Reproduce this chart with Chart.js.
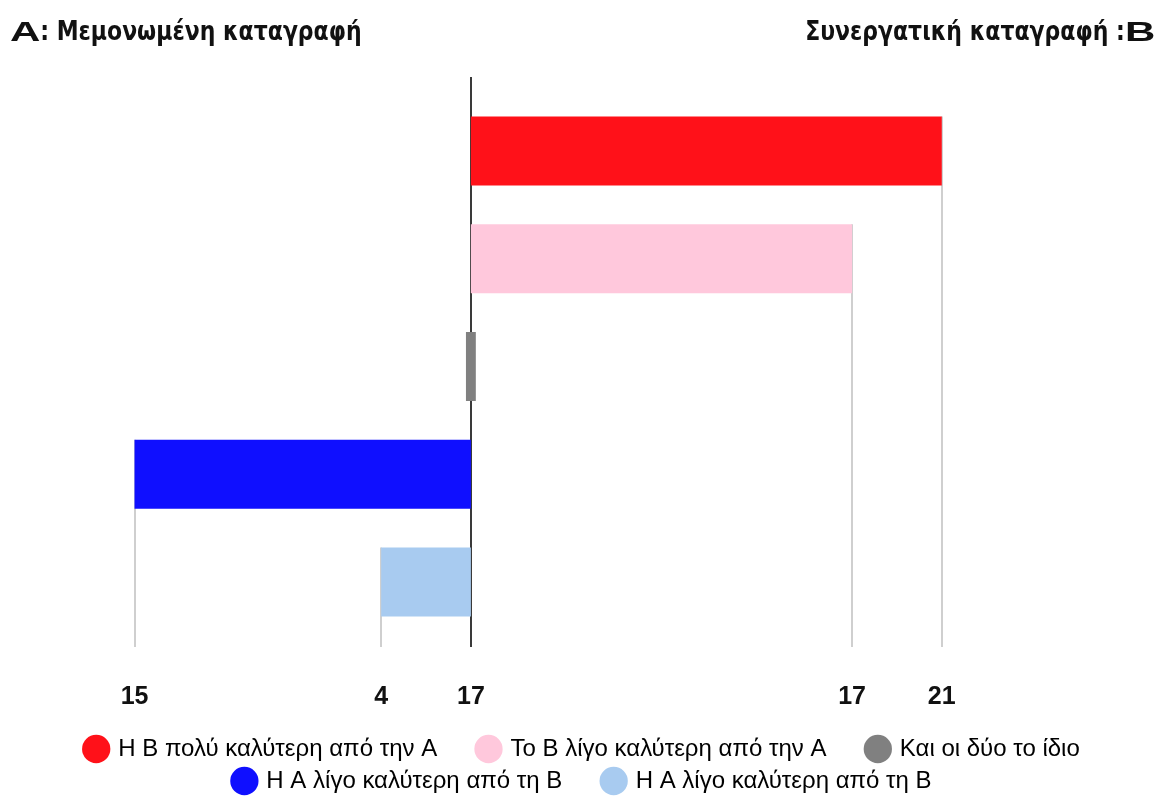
<!DOCTYPE html>
<html>
<head>
<meta charset="utf-8">
<script src="https://cdn.jsdelivr.net/npm/chart.js@4.4.0/dist/chart.umd.min.js"></script>
<style>
  html, body { margin: 0; padding: 0; background: #fff; }
  #wrap { position: relative; width: 1166px; height: 803px; }
  .head { position: absolute; top: 16px; font-family: "DejaVu Sans", sans-serif; font-weight: bold; font-size: 22px; color: #111; white-space: nowrap; }
  .head b { display: inline-block; font-family: "Liberation Sans", Arial, sans-serif; font-size: 28px; transform: scaleX(1.5); }
  .head span { display: inline-block; transform: scaleY(1.2); transform-origin: bottom; }
  #headA { left: 10px; }
  #headA b { transform-origin: left; margin-right: 10px; }
  #headB { right: 11px; }
  #headB b { transform-origin: right; margin-left: 10px; }
  canvas { display: block; }
</style>
</head>
<body>
<div id="wrap">
  <div class="head" id="headA"><b>A</b><span>: Μεμονωμένη καταγραφή</span></div>
  <div class="head" id="headB"><span>Συνεργατική καταγραφή :</span><b>B</b></div>
  <canvas id="chart" width="1166" height="803"></canvas>
</div>
<script>
console.log("JS Loaded");

// DATA
const categories = ['Η Β πολύ καλύτερη από την Α', 'Το Β λίγο καλύτερη από την Α', 'Και οι δύο το ίδιο', 'Η Α λίγο καλύτερη από τη Β', 'Η Α λίγο καλύτερη από τη Β'];
const counts = [21, 17, 17, 15, 4];
// which side of the centre line: +1 = B, -1 = A, 0 = centre marker
const sides = [1, 1, 0, -1, -1];
const colors = ['#ff1119', '#ffc8dc', '#808080', '#0f0fff', '#a8cbf0'];
const tickValues = [-15, -4, 0, 17, 21];
const tickLabels = ['15', '4', '17', '17', '21'];

const markerHalf = 0.22; // half width of the "same" marker
// legend items followed by a wider gap (not last in their row)
const gapAfter = [true, true, false, true, false];
const legendGap = '     ';

const barData = counts.map((c, i) => sides[i] === 0 ? [-markerHalf, markerHalf] : (sides[i] > 0 ? [0, c] : [-c, 0]));

// guide lines: centre line + light lines dropping from each bar end
const guideLines = {
  id: 'guideLines',
  beforeDatasetsDraw(chart) {
    const {ctx, chartArea, scales} = chart;
    const meta = chart.getDatasetMeta(0);
    const bottom = chartArea.bottom + 11;
    ctx.save();
    ctx.lineWidth = 2;
    ctx.strokeStyle = '#cfcfcf';
    meta.data.forEach((bar, i) => {
      if (sides[i] === 0) return;
      const x = Math.round(bar.x);
      ctx.beginPath();
      ctx.moveTo(x, bar.y - bar.height / 2);
      ctx.lineTo(x, bottom);
      ctx.stroke();
    });
    const cx = Math.round(scales.x.getPixelForValue(0));
    ctx.strokeStyle = '#3a3a3a';
    ctx.beginPath();
    ctx.moveTo(cx, chartArea.top - 20);
    ctx.lineTo(cx, bottom);
    ctx.stroke();
    ctx.restore();
  }
};

const ctx = document.getElementById('chart');
const myChart = new Chart(ctx, {
  type: 'bar',
  data: {
    labels: categories,
    datasets: [{
      data: barData,
      backgroundColor: colors,
      borderWidth: 0,
      borderSkipped: false,
      categoryPercentage: 0.8,
      barPercentage: 0.8
    }]
  },
  options: {
    indexAxis: 'y',
    responsive: false,
    animation: false,
    layout: { padding: { top: 97, left: 0, right: 0, bottom: 0 } },
    scales: {
      x: {
        type: 'linear',
        min: -21,
        max: 31,
        afterBuildTicks: (scale) => { scale.ticks = tickValues.map(v => ({ value: v })); },
        afterFit: (scale) => { scale.height = 93; },
        ticks: {
          autoSkip: false,
          maxRotation: 0,
          padding: 46,
          color: '#111',
          font: { family: '"Liberation Sans", Arial, sans-serif', size: 25, weight: 'bold', lineHeight: 1.2 },
          callback: (value) => tickLabels[tickValues.indexOf(value)]
        },
        grid: { display: false, drawTicks: false },
        border: { display: false }
      },
      y: {
        display: false,
        offset: true
      }
    },
    plugins: {
      tooltip: { enabled: false },
      legend: {
        position: 'bottom',
        labels: {
          usePointStyle: true,
          boxWidth: 20,
          boxHeight: 20,
          padding: 8,
          color: '#111',
          font: { family: '"Liberation Sans", Arial, sans-serif', size: 24 },
          generateLabels: () => categories.map((c, i) => ({
            text: gapAfter[i] ? c + legendGap : c,
            fillStyle: colors[i],
            strokeStyle: colors[i],
            lineWidth: 0,
            pointStyle: 'circle',
            hidden: false,
            index: i
          }))
        }
      }
    }
  },
  plugins: [guideLines]
});
</script>
</body>
</html>
